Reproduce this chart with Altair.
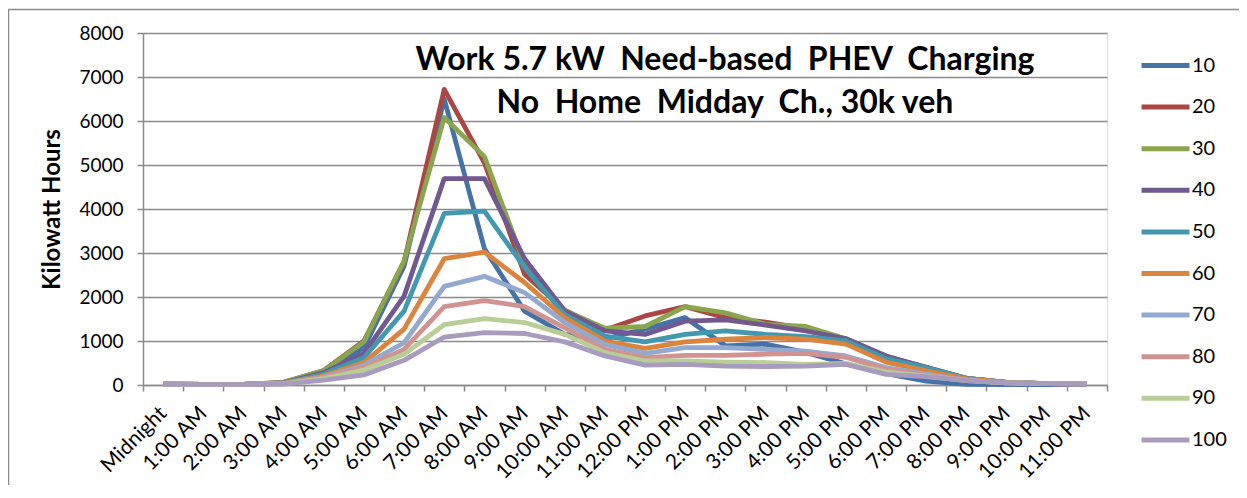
import altair as alt
import pandas as pd

HOURS = ["Midnight", "1:00 AM", "2:00 AM", "3:00 AM", "4:00 AM", "5:00 AM", "6:00 AM",
         "7:00 AM", "8:00 AM", "9:00 AM", "10:00 AM", "11:00 AM", "12:00 PM",
         "1:00 PM", "2:00 PM", "3:00 PM", "4:00 PM", "5:00 PM", "6:00 PM",
         "7:00 PM", "8:00 PM", "9:00 PM", "10:00 PM", "11:00 PM"]

S10 = [20, 15, 15, 40, 250, 850, 2700, 6500, 3100, 1680, 1150, 1050, 1270, 1530, 890, 930, 740, 480, 260, 90, 15, 10, 10, 10]
S20 = [20, 15, 15, 60, 330, 1000, 2800, 6720, 5050, 2520, 1700, 1250, 1570, 1780, 1530, 1430, 1280, 1050, 640, 400, 150, 60, 30, 25]
S30 = [20, 15, 15, 60, 330, 980, 2820, 6080, 5190, 2740, 1690, 1290, 1330, 1780, 1640, 1380, 1330, 1050, 660, 380, 150, 60, 30, 25]
S40 = [20, 15, 15, 50, 280, 720, 2020, 4690, 4690, 2870, 1680, 1230, 1150, 1450, 1480, 1360, 1230, 1050, 660, 400, 150, 60, 30, 25]
S50 = [20, 15, 15, 45, 250, 620, 1680, 3900, 3950, 2670, 1600, 1110, 980, 1150, 1230, 1150, 1100, 1000, 600, 390, 150, 60, 30, 25]
S60 = [20, 15, 15, 40, 210, 510, 1270, 2870, 3020, 2330, 1530, 1000, 830, 980, 1040, 1080, 1040, 930, 520, 320, 140, 60, 30, 25]
S70 = [20, 15, 15, 35, 180, 450, 960, 2240, 2470, 2100, 1420, 925, 720, 850, 850, 810, 770, 660, 395, 245, 110, 50, 30, 25]
S80 = [20, 15, 15, 30, 170, 400, 810, 1780, 1920, 1780, 1300, 810, 620, 675, 675, 700, 720, 630, 355, 220, 110, 50, 30, 25]
S90 = [20, 15, 15, 25, 145, 340, 700, 1370, 1510, 1420, 1150, 735, 545, 545, 520, 510, 470, 490, 295, 200, 100, 50, 30, 25]
S100 = [20, 15, 15, 20, 110, 230, 560, 1090, 1190, 1170, 980, 660, 450, 470, 430, 420, 430, 470, 240, 190, 100, 50, 30, 25]

SERIES_NAMES = ["10", "20", "30", "40", "50", "60", "70", "80", "90", "100"]
SERIES_VALUES = [S10, S20, S30, S40, S50, S60, S70, S80, S90, S100]
COLORS = ["#4572A7", "#AA4643", "#89A54E", "#71588F", "#4198AF",
          "#DB843D", "#93A9CF", "#D19392", "#B9CD96", "#A99BBD"]
Y_TICKS = [0, 1000, 2000, 3000, 4000, 5000, 6000, 7000, 8000]
NB = "\u00a0 "
TITLE_LINES = ["Work 5.7 kW" + NB + "Need-based" + NB + "PHEV" + NB + "Charging",
               "No" + NB + "Home" + NB + "Midday" + NB + "Ch., 30k veh"]

rows = []
for name, vals in zip(SERIES_NAMES, SERIES_VALUES):
    for h, v in zip(HOURS, vals):
        rows.append({"hour": h, "series": name, "kwh": v})
df = pd.DataFrame(rows)

FONT = "Lato"
GRID = "#8A8A8A"

lines = alt.Chart(df).mark_line(strokeWidth=4.8, strokeJoin="round", clip=False).encode(
    x=alt.X("hour:N", sort=HOURS, bandPosition=0.5,
            scale=alt.Scale(type="band", paddingInner=0, paddingOuter=0),
            axis=alt.Axis(title=None, labelAngle=-45, labelFont=FONT, labelFontSize=21,
                          labelColor="black", labelAlign="right", labelBaseline="middle",
                          labelPadding=19, tickBand="extent", tickSize=6, tickColor=GRID,
                          tickWidth=1.5, domainColor=GRID, domainWidth=1.5, grid=False)),
    y=alt.Y("kwh:Q", scale=alt.Scale(domain=[0, 8000], nice=False),
            axis=alt.Axis(title="Kilowatt Hours", values=Y_TICKS, format="d", labelFont=FONT,
                          labelFontSize=19, labelColor="black", labelPadding=14,
                          tickSize=6, tickColor=GRID, tickWidth=1.5, domainColor=GRID,
                          domainWidth=1.5, gridColor=GRID, gridWidth=1.5,
                          titleFont=FONT, titleFontSize=24, titleFontWeight="bold",
                          titleColor="black", titlePadding=14)),
    color=alt.Color("series:N", sort=SERIES_NAMES,
                    scale=alt.Scale(domain=SERIES_NAMES, range=COLORS),
                    legend=alt.Legend(title=None, orient="none", legendX=996, legendY=6,
                                      symbolType="stroke", symbolSize=2300,
                                      symbolStrokeWidth=5, labelFont=FONT,
                                      labelFontSize=20, labelColor="black",
                                      rowPadding=4.6, labelOffset=0)),
)

title1 = alt.Chart(pd.DataFrame({"t": [TITLE_LINES[0]]})).mark_text(
    font=FONT, fontSize=32, fontWeight="bold", color="black", align="center", baseline="middle"
).encode(text="t:N", x=alt.value(582), y=alt.value(27))
title2 = alt.Chart(pd.DataFrame({"t": [TITLE_LINES[1]]})).mark_text(
    font=FONT, fontSize=32, fontWeight="bold", color="black", align="center", baseline="middle"
).encode(text="t:N", x=alt.value(582), y=alt.value(70))

border = alt.Chart(pd.DataFrame({"a": [0]})).mark_rect(
    fill=None, stroke="#8A8A8A", strokeWidth=1.5, clip=False
).encode(x=alt.value(-134.5), y=alt.value(-23.5), x2=alt.value(3000), y2=alt.value(3000))

chart = alt.layer(border, lines, title1, title2).properties(
    width=964, height=352,
    autosize=alt.AutoSizeParams(type="none"),
    padding={"left": 135, "top": 25, "right": 132, "bottom": 100},
).configure_view(stroke=None).configure(background="white")

chart.save("out.html", embed_options={"renderer": "svg", "actions": False})
